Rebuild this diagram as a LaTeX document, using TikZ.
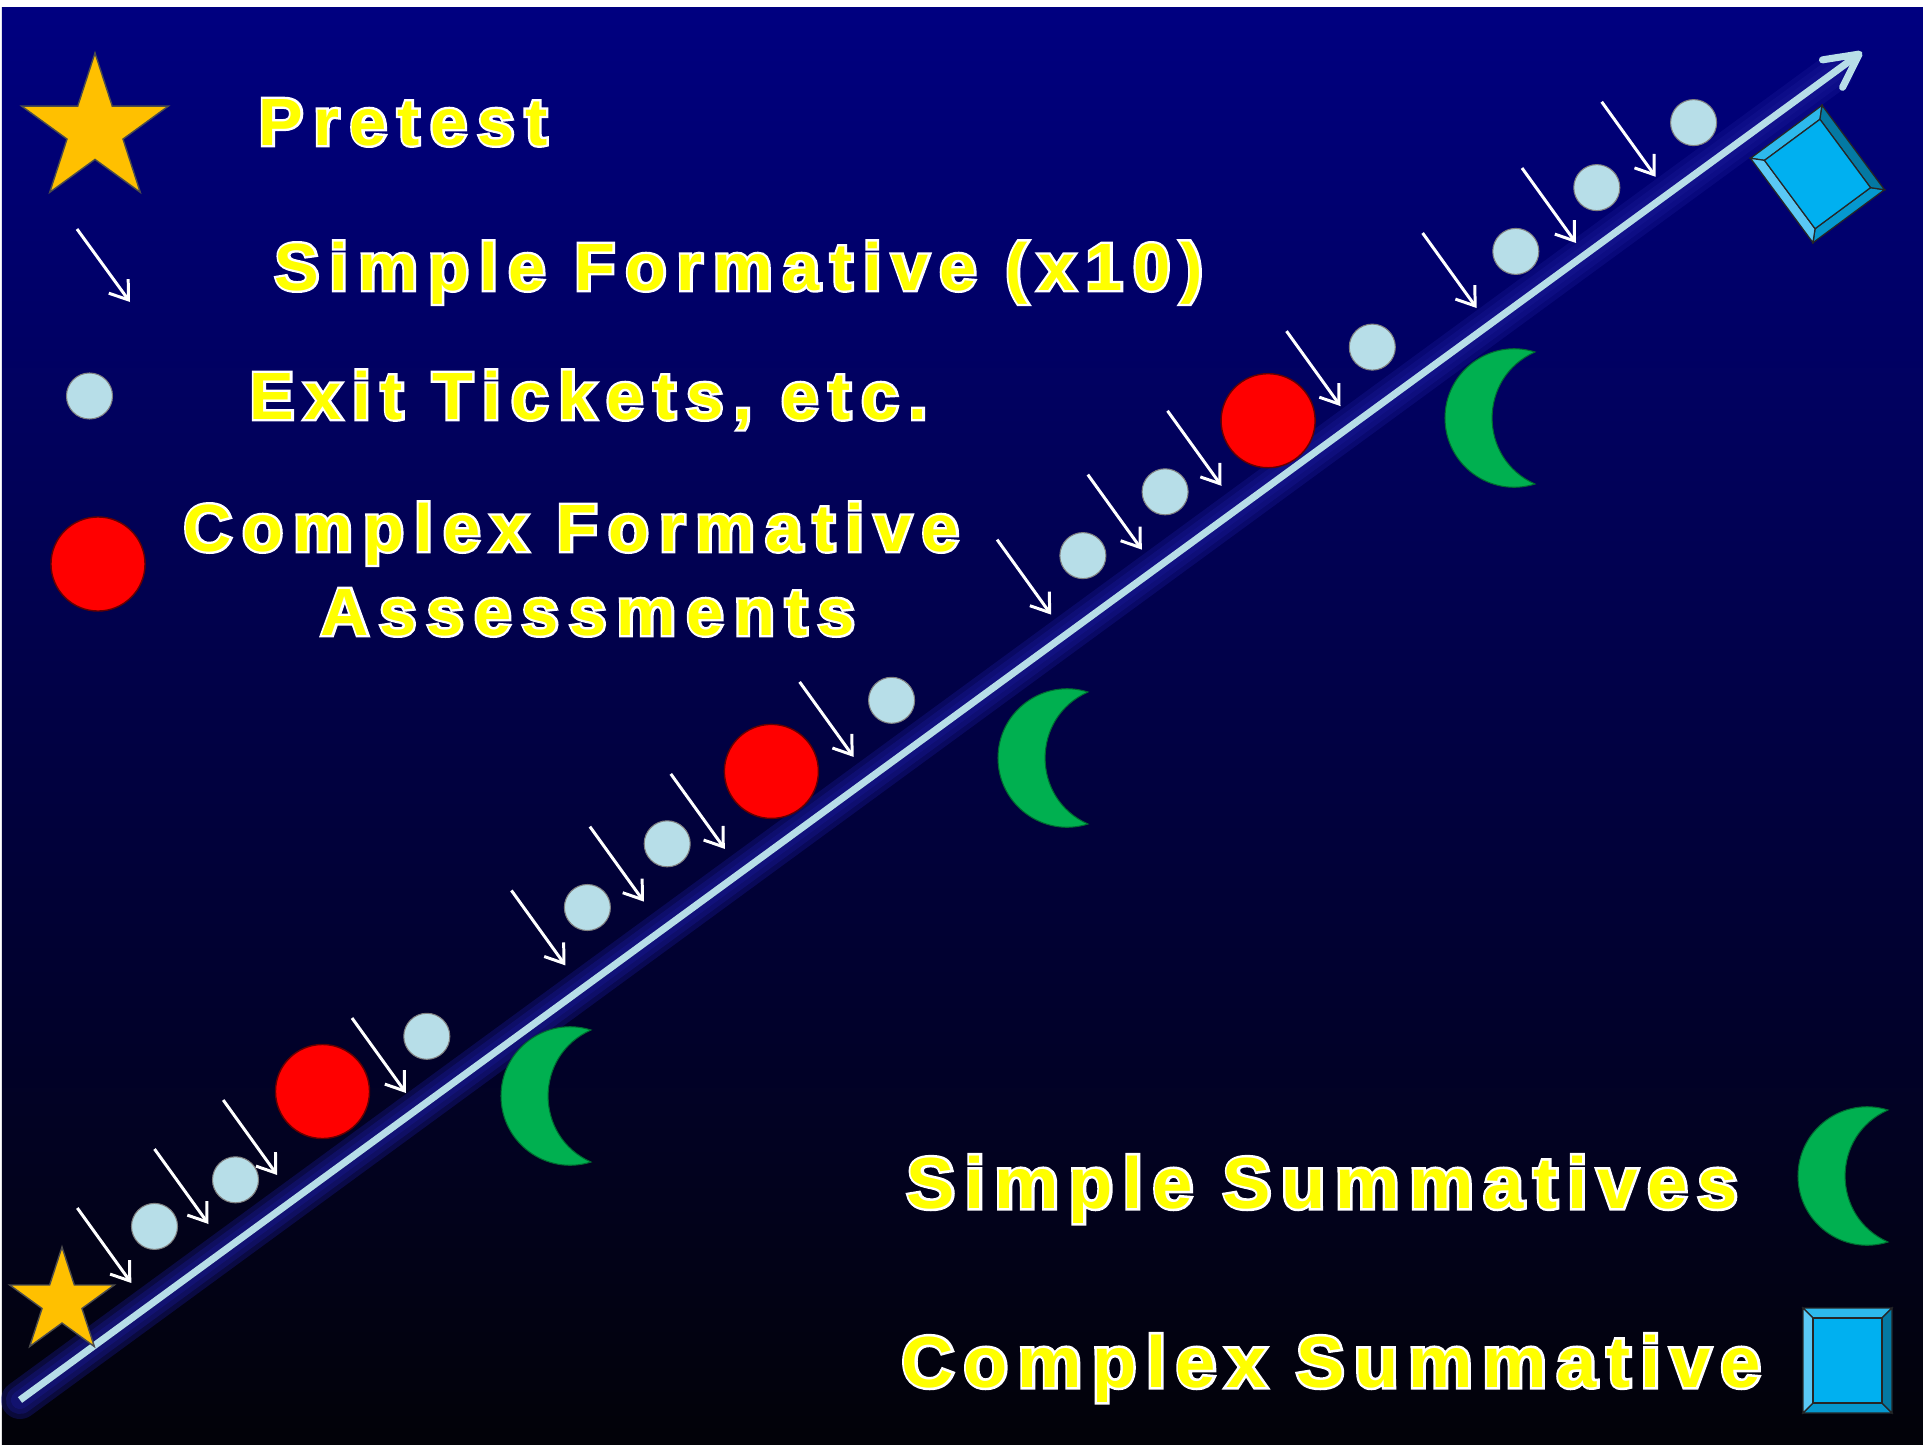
\documentclass[tikz,border=0pt]{standalone}
\usepackage{fontspec}
\usepackage{tikz}
\usetikzlibrary{positioning,arrows.meta,shapes.geometric,calc}
\newfontfamily\legendfont[LetterSpace=15.5]{Liberation Sans}
\newfontfamily\legendglowfont[LetterSpace=15.5,FakeBold=7]{Liberation Sans}
\newfontfamily\keyfont[LetterSpace=13.5]{Liberation Sans}
\newfontfamily\keyglowfont[LetterSpace=13.5,FakeBold=7]{Liberation Sans}
\definecolor{bgtop}{RGB}{0,0,128}
\definecolor{bgbottom}{RGB}{2,2,8}
\definecolor{linelight}{RGB}{183,222,232}
\definecolor{glowblue}{RGB}{25,25,150}
\definecolor{stargold}{RGB}{255,192,0}
\definecolor{moongreen}{RGB}{0,176,80}
\definecolor{cfred}{RGB}{255,0,0}
\definecolor{txtyellow}{RGB}{255,255,0}
\definecolor{boxface}{RGB}{0,176,240}
\definecolor{boxlight}{RGB}{90,200,245}
\definecolor{boxtop}{RGB}{45,185,236}
\definecolor{boxdark}{RGB}{4,121,163}
\definecolor{boxmid}{RGB}{5,152,207}
\tikzset{
  ticket/.style  = {circle, fill=linelight, draw=black!50, line width=0.3pt,
                    minimum size=4.6mm, inner sep=0pt},
  cform/.style   = {circle, fill=cfred, draw=red!40!black, line width=0.4pt,
                    minimum size=9.4mm, inner sep=0pt},
  pretest/.style = {star, star points=5, star point ratio=2.618, fill=stargold,
                    draw=black!70, line width=0.4pt, inner sep=0pt},
  sfarrow/.style = {draw=white, line width=0.85pt,
                    -{Straight Barb[length=1.7mm, width=2.4mm]}},
  mainline/.style= {draw=linelight, line width=2pt,
                    -{Straight Barb[round, length=3.3mm, width=3.4mm]}},
  glowline/.style= {draw=glowblue, line cap=round, opacity=0.35},
  bevel/.style   = {draw=black!85, line width=0.35pt, line join=miter},
  lbltop/.style  = {font=\legendfont\bfseries\fontsize{19}{23}\selectfont,
                    text=txtyellow, inner sep=0pt, anchor=base west},
  glowtop/.style = {lbltop, font=\legendglowfont\bfseries\fontsize{19}{23}\selectfont,
                    text=white},
  lblbot/.style  = {font=\keyfont\bfseries\fontsize{20.6}{25}\selectfont,
                    text=txtyellow, inner sep=0pt, anchor=base west},
  glowbot/.style = {lblbot, font=\keyglowfont\bfseries\fontsize{20.6}{25}\selectfont,
                    text=white},
  moon/.pic = {
    \path[fill=moongreen, draw=moongreen!60!black, line width=0.3pt]
      (0,-66) .. controls (-44.6,-80.1) and (-90,-46.8) .. (-90,0)
      .. controls (-90,46.8) and (-44.6,80.1) .. (0,66)
      .. controls (-57.2,40.6) and (-57.2,-40.6) .. (0,-66) -- cycle;
  },
  cube/.pic = {
    \path[bevel, fill=boxtop]   (-44.5,-52.5) -- (44.5,-52.5) -- (34.5,-42.5) -- (-34.5,-42.5) -- cycle;
    \path[bevel, fill=boxmid]   (-44.5,52.5) -- (44.5,52.5) -- (34.5,42.5) -- (-34.5,42.5) -- cycle;
    \path[bevel, fill=boxlight] (-44.5,-52.5) -- (-34.5,-42.5) -- (-34.5,42.5) -- (-44.5,52.5) -- cycle;
    \path[bevel, fill=boxdark]  (44.5,-52.5) -- (34.5,-42.5) -- (34.5,42.5) -- (44.5,52.5) -- cycle;
    \path[bevel, fill=boxface]  (-34.5,-42.5) rectangle (34.5,42.5);
  },
}

\begin{document}
\begin{tikzpicture}[x=0.01cm, y=-0.01cm]
  \useasboundingbox (0,0) rectangle (1923,1445);
  \fill[white] (0,0) rectangle (1923,1445);
  \shade[top color=bgtop, bottom color=bgbottom] (2,7) rectangle (1923,1445);

  \coordinate (start) at (20,1400);
  \coordinate (tip) at (1862,52);
  \draw[glowline, line width=3.8mm] (start) -- ($(start)!0.985!(tip)$);
  \draw[glowline, line width=2.8mm] (start) -- ($(start)!0.985!(tip)$);
  \draw[glowline, line width=1.8mm] (start) -- ($(start)!0.985!(tip)$);
  \draw[mainline] (start) -- (tip);

  \pic (moon1) at (591,1096) {moon};
  \pic (moon2) at (1088,758) {moon};
  \pic (moon3) at (1535,418) {moon};
  \pic[rotate=36.5] (cubetop) at (1817.5,174) {cube};

  \node[ticket] (t1)  at (154.5,1226.4) {};
  \node[ticket] (t2)  at (235.5,1179.8) {};
  \node[ticket] (t3)  at (426.8,1036.3) {};
  \node[ticket] (t4)  at (587.4,907.5) {};
  \node[ticket] (t5)  at (667.2,843.8) {};
  \node[ticket] (t6)  at (891.6,700.3) {};
  \node[ticket] (t7)  at (1082.9,555.6) {};
  \node[ticket] (t8)  at (1165.1,491.8) {};
  \node[ticket] (t9)  at (1372.3,347.1) {};
  \node[ticket] (t10) at (1515.8,251.4) {};
  \node[ticket] (t11) at (1596.8,187.6) {};
  \node[ticket] (t12) at (1693.6,122.6) {};

  \node[cform] (c1) at (322.5,1091.5) {};
  \node[cform] (c2) at (771.4,771.4) {};
  \node[cform] (c3) at (1268.1,420.7) {};

  \draw[sfarrow] (77.3,1208)   -- ++(54,75);
  \draw[sfarrow] (154.5,1149)  -- ++(54,75);
  \draw[sfarrow] (223.2,1100)  -- ++(54,75);
  \draw[sfarrow] (352,1018)    -- ++(54,75);
  \draw[sfarrow] (511.4,890.4) -- ++(54,75);
  \draw[sfarrow] (589.9,826.6) -- ++(54,75);
  \draw[sfarrow] (670.8,773.9) -- ++(54,75);
  \draw[sfarrow] (799.6,681.9) -- ++(54,75);
  \draw[sfarrow] (997.1,539.6) -- ++(54,75);
  \draw[sfarrow] (1087.8,474.6) -- ++(54,75);
  \draw[sfarrow] (1167.5,410.8) -- ++(54,75);
  \draw[sfarrow] (1286.5,331.1) -- ++(54,75);
  \draw[sfarrow] (1422.6,233)  -- ++(54,75);
  \draw[sfarrow] (1522,168)    -- ++(54,75);
  \draw[sfarrow] (1601.7,101.8) -- ++(54,75);

  \node[pretest, minimum size=11mm] (s0) at (62,1302) {};

  \node[pretest, minimum size=15.4mm] (keystar) at (95,130) {};
  \draw[sfarrow] (77,229) -- ++(53,73);
  \node[ticket] (keyticket) at (89.5,396) {};
  \node[cform] (keyred) at (98,564) {};
  \pic (keymoon) at (1888,1176) {moon};
  \pic (keycube) at (1847.5,1360.5) {cube};

  \node[glowtop] at (258,145) {Pretest};
  \node[lbltop] (pre) at (258,145) {Pretest};
  \node[glowtop] at (274,290) {Simple Formative (x10)};
  \node[lbltop] (sform) at (274,290) {Simple Formative (x10)};
  \node[glowtop] at (249,419) {Exit Tickets, etc.};
  \node[lbltop] (exit) at (249,419) {Exit Tickets, etc.};
  \node[glowtop] at (183,551) {Complex Formative};
  \node[lbltop] (cform1) at (183,551) {Complex Formative};
  \node[glowtop] at (320,635) {Assessments};
  \node[lbltop] (cform2) at (320,635) {Assessments};
  \node[glowbot] at (906,1208) {Simple Summatives};
  \node[lblbot] (ssum) at (906,1208) {Simple Summatives};
  \node[glowbot] at (901,1387) {Complex Summative};
  \node[lblbot] (csum) at (901,1387) {Complex Summative};
\end{tikzpicture}
\end{document}
